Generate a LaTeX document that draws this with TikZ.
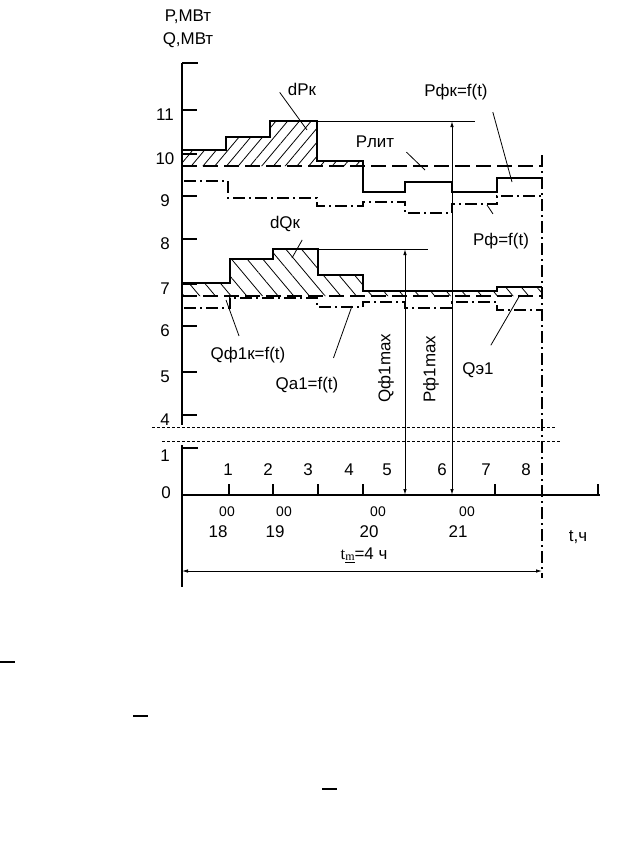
\documentclass[tikz,border=0pt]{standalone}
\usepackage{fontspec}
\setmainfont{Liberation Sans}
\newfontfamily\serifft{Liberation Serif}
\usetikzlibrary{
  arrows.meta,
  calc,
  patterns.meta,
  positioning,
}
\tikzset{
  >={Latex[length=6bp,width=3.5bp]},
  axisline/.style={line width=1.4bp},
  curvefk/.style={line width=2.4bp},
  limline/.style={line width=2.2bp,dash pattern=on 15bp off 6bp},
  factline/.style={line width=1.8bp,dash pattern=on 12bp off 4bp on 2bp off 4bp},
  thinline/.style={line width=0.8bp},
  dimline/.style={line width=1bp,<->},
  leader/.style={line width=0.8bp},
  breakline/.style={line width=0.9bp,dash pattern=on 3bp off 2bp},
  lbl/.style={inner sep=0pt,font=\fontsize{17}{19}\selectfont},
  smalllbl/.style={inner sep=0pt,font=\fontsize{14}{16}\selectfont},
}

\begin{document}
\begin{tikzpicture}[x=1bp,y=-1bp]
        \useasboundingbox (0,0) rectangle (620,842);

        % hatched areas
        \fill[pattern={Lines[angle=50,distance=9bp,line width=0.8bp]}] (182,150) -| (226,137) -| (270,121) -| (317,161) -| (363,166) -- (182,166) -- cycle;
        \fill[pattern={Lines[angle=-50,distance=12bp,line width=0.8bp]}] (182,283) -| (230,259) -| (273,249) -| (318,275) -| (363,291) -| (497,287) -| (542,296) -- (182,296) -- cycle;

        % P curves
        \draw[curvefk] (182,150) -| (226,137) -| (270,121) -| (317,161) -| (363,192) -| (405,182) -| (452,192) -| (497,178) -- (542,178);
        \draw[limline] (182,166) -- (542,166);
        \draw[factline] (184,181) -| (228,198) -| (317,206) -| (363,202) -| (405,213) -| (452,204) -| (497,196) -- (542,196);
        \draw[thinline] (317,121) -- (475,121);

        % Q curves
        \draw[curvefk] (182,283) -| (230,259) -| (273,249) -| (318,275) -| (363,291) -| (497,287) -- (542,287);
        \draw[limline] (182,296) -- (542,296);
        \draw[factline] (184,308) -| (230,298) -| (317,307) -| (363,302) -| (405,308) -| (452,302) -| (497,310) -- (542,310);
        \draw[thinline] (318,249) -- (428,249);

        \draw[factline] (542,155) -- (542,578);

        % axes
        \draw[axisline] (182,63) -- (182,425);
        \draw[axisline] (182,445) -- (182,587);
        \draw[line width=1.8bp] (182,495) -- (600,495);
        \draw[axisline] (182,63) -- (198,63);
        \draw[axisline] (182,448) -- (198,448);
        \foreach \y/\v in {110/11,154/10,196/9,239/8,284/7,326/6,372/5,415/4} {
            \draw[axisline] (182,\y) -- (197,\y);
            \node[lbl] (y\v) at (165,\y+5) {\v};
        }
        \node[lbl] (ya1) at (165,456) {1};
        \node[lbl] (ya0) at (166,493) {0};
        \foreach \x in {229,273,318,363,495,598}
            \draw[axisline] (\x,495) -- (\x,484);

        % break
        \draw[breakline] (152,427) -- (556,427);
        \draw[breakline] (162,441) -- (562,441);

        % maxima
        \coordinate (qmax-top) at (405,249);
        \coordinate (qmax-bot) at (405,495);
        \coordinate (pmax-top) at (452,121);
        \coordinate (pmax-bot) at (452,495);
        \draw[dimline] (qmax-top) -- (qmax-bot);
        \draw[dimline] (pmax-top) -- (pmax-bot);
        \node[lbl,rotate=90] (Qf1max) at (386,368) {Qф1max};
        \node[lbl,rotate=90] (Pf1max) at (431,369) {Pф1max};

        % time axis
        \foreach \x/\n in {228/1,268/2,308/3,349/4,387/5,442/6,486/7,526/8}
            \node[lbl] (iv\n) at (\x,470) {\n};
        \foreach \x/\h in {218/18,275/19,369/20,458/21} {
            \node[lbl] (h\h) at (\x,532) {\h};
            \node[smalllbl] (z\h) at (\x+9,512) {00};
        }
        \node[lbl] (tlab) at (578,537) {t,ч};
        \coordinate (tm-a) at (182,571);
        \coordinate (tm-b) at (542,571);
        \draw[thinline,<->] (tm-a) -- (tm-b);
        \node[lbl] (tm) at (364,555) {{\serifft t\raisebox{-1bp}{\fontsize{12}{12}\selectfont\underline{m}}}=4 ч};

        % labels
        \node[lbl] (Paxis) at (188,17) {P,МВт};
        \node[lbl] (Qaxis) at (188,40) {Q,МВт};
        \node[lbl] (dPk) at (302,89) {dPк};
        \node[lbl] (Plit) at (375,142) {Pлит};
        \node[lbl] (Pfk) at (456,92) {Pфк=f(t)};
        \node[lbl] (Pf) at (501,241) {Pф=f(t)};
        \node[lbl] (dQk) at (285,224) {dQк};
        \node[lbl] (Qf1k) at (248,355) {Qф1к=f(t)};
        \node[lbl] (Qa1) at (307,385) {Qa1=f(t)};
        \node[lbl] (Qe1) at (478,370) {Qэ1};

        % leaders
        \coordinate (dPk-tip) at (307,130);
        \coordinate (Plit-tip) at (425,170);
        \coordinate (Pfk-tip) at (512,182);
        \coordinate (Pf-tip) at (487,205);
        \coordinate (dQk-tip) at (292,258);
        \coordinate (Qf1k-tip) at (226,300);
        \coordinate (Qa1-tip) at (352,306);
        \coordinate (Qe1-tip) at (520,295);
        \draw[leader] ($(dPk.south west)+(-8,-3)$) -- (dPk-tip);
        \draw[leader] ($(Plit.south east)+(12,4)$) -- (Plit-tip);
        \draw[leader] ($(Pfk.south east)+(5,12)$) -- (Pfk-tip);
        \draw[leader] ($(Pf.north)+(-8,-19)$) -- (Pf-tip);
        \draw[leader] ($(dQk.south east)+(2,8)$) -- (dQk-tip);
        \draw[leader] ($(Qf1k.north)+(-9,-11)$) -- (Qf1k-tip);
        \draw[leader] ($(Qa1.north east)+(-5,-19)$) -- (Qa1-tip);
        \draw[leader] ($(Qe1.north east)+(-3,-17)$) -- (Qe1-tip);

        % marks below
        \draw[line width=1.5bp] (0,662) -- (15,662);
        \draw[line width=1.5bp] (133,716) -- (148,716);
        \draw[line width=1.5bp] (322,789) -- (337,789);
    \end{tikzpicture}
\end{document}
